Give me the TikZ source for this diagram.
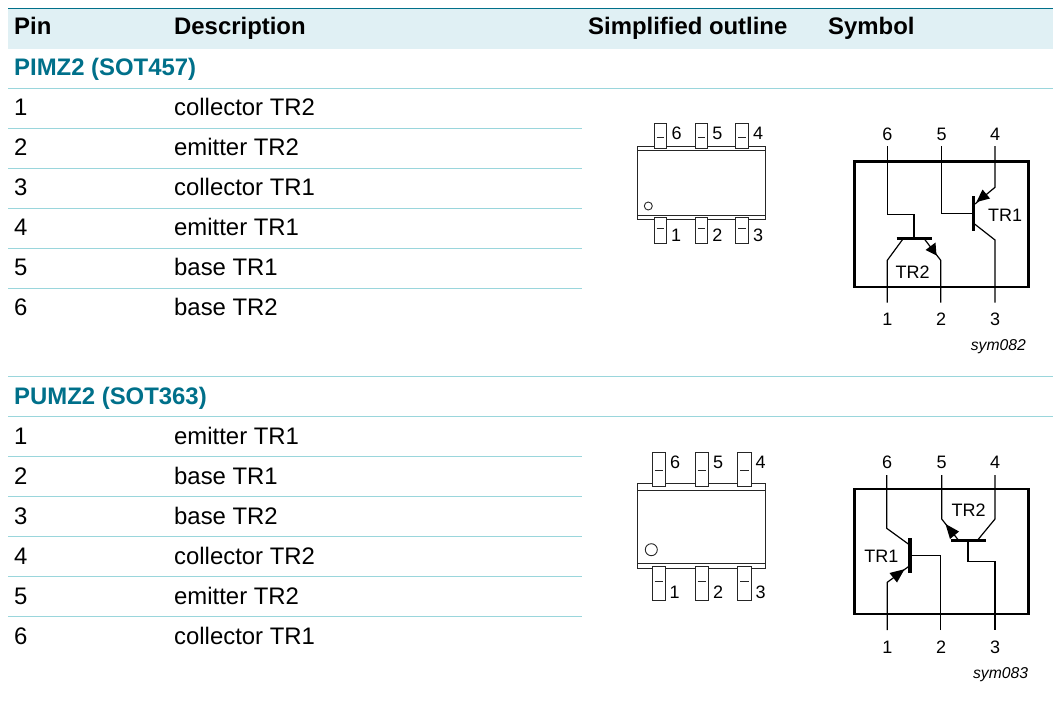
\documentclass[tikz,border=0pt]{standalone}
\usepackage{fontspec}
\setmainfont{Liberation Sans}
\definecolor{band}{HTML}{E0F0F4}
\definecolor{teal}{HTML}{00708A}
\definecolor{rule}{HTML}{9AD6DC}
\tikzset{
  cell/.style={anchor=base west,inner sep=0pt,font=\fontsize{23.9}{28}\selectfont,text=black},
  head/.style={cell,font=\fontsize{23.9}{28}\selectfont\bfseries},
  group/.style={cell,font=\fontsize{23.9}{28}\selectfont\bfseries,text=teal},
  rowrule/.style={draw=rule,line width=1pt},
  pinlabel/.style={inner sep=0pt,font=\fontsize{18}{20}\selectfont},
  trlabel/.style={inner sep=0pt,font=\fontsize{18}{20}\selectfont},
  symcode/.style={anchor=east,inner sep=0pt,font=\fontsize{15.7}{18}\selectfont\itshape},
  outl/.style={draw=black!85,line width=1pt},
  pkgpin/.style={draw=black!85,fill=white,line width=.95pt},
  pindash/.style={draw=black!85,line width=.9pt},
  symbox/.style={draw=black,line width=2.7pt},
  wire/.style={draw=black,line width=1.2pt},
  trbar/.style={draw=black,line width=3.2pt},
  arrowhead/.style={fill=black,draw=none}
}
\begin{document}
\begin{tikzpicture}[x=1pt,y=-1pt]
\useasboundingbox (0,0) rectangle (1053,701);
% header band
\fill[band] (8,8.5) rectangle (1053,49);
\draw[teal,line width=1pt] (8,8.3) -- (1053,8.3);
\node[head] (hpin) at (14,35) {Pin};
\node[head] (hdesc) at (174,35) {Description};
\node[head] (hout) at (588,35) {Simplified outline};
\node[head] (hsym) at (828,35) {Symbol};
% group rows
\node[group] (g1) at (14,76) {PIMZ2 (SOT457)};
\node[group] (g2) at (14,404.5) {PUMZ2 (SOT363)};
\foreach \y in {88.5,376.7,416.7} \draw[rowrule] (8,\y) -- (1053,\y);
\foreach \y in {128.5,168.5,208.5,248.5,288.5,456.5,496.5,536.5,576.5,616.5} \draw[rowrule] (8,\y) -- (582,\y);
% table rows
\foreach \n/\d/\y in {1/collector TR2/115,2/emitter TR2/155,3/collector TR1/195,4/emitter TR1/235,5/base TR1/275,6/base TR2/315}{
  \node[cell] (a\n) at (14,\y) {\n};
  \node[cell] (ad\n) at (174,\y) {\d};
}
\foreach \n/\d/\y in {1/emitter TR1/444,2/base TR1/484,3/base TR2/524,4/collector TR2/564,5/emitter TR2/604,6/collector TR1/644}{
  \node[cell] (b\n) at (14,\y) {\n};
  \node[cell] (bd\n) at (174,\y) {\d};
}
% outline 1
\draw[outl] (637.7,146.7) rectangle (765.3,219);
\draw[outl] (637.7,150.7) -- (765.3,150.7);
\draw[outl] (637.7,215) -- (765.3,215);
\foreach \x in {654,695,735.7}{
  \draw[pkgpin] (\x,123.3) rectangle (\x+12.7,148.3);
  \draw[pindash] (\x+2.5,137.3) -- (\x+10.2,137.3);
  \draw[pkgpin] (\x,217.7) rectangle (\x+12.7,243);
  \draw[pindash] (\x+2.5,228) -- (\x+10.2,228);
}
\draw[draw=black!85,line width=.9pt] (648.3,206) circle[radius=4];
\foreach \t/\x in {6/676.7,5/717.3,4/758}{ \node[pinlabel] (oa\t) at (\x,133.5) {\t}; }
\foreach \t/\x in {1/676,2/717.3,3/758}{ \node[pinlabel] (oa\t) at (\x,235) {\t}; }
% outline 2
\draw[outl] (637.7,483.7) rectangle (765.3,568.7);
\draw[outl] (637.7,490) -- (765.3,490);
\draw[outl] (637.7,563.3) -- (765.3,563.3);
\foreach \x in {652,695,737.7}{
  \draw[pkgpin] (\x,452) rectangle (\x+13.3,486);
  \draw[pindash] (\x+2.5,470) -- (\x+10.8,470);
  \draw[pkgpin] (\x,566) rectangle (\x+13.3,600.7);
  \draw[pindash] (\x+2.5,581.7) -- (\x+10.8,581.7);
}
\draw[draw=black!85,line width=.9pt] (651.3,549.7) circle[radius=6];
\foreach \t/\x in {6/675,5/718,4/760.7}{ \node[pinlabel] (ob\t) at (\x,462.5) {\t}; }
\foreach \t/\x in {1/674.5,2/718,3/760.7}{ \node[pinlabel] (ob\t) at (\x,592) {\t}; }
% symbol 1
\draw[symbox] (854.7,161.7) rectangle (1028.3,287);
\coordinate (s6) at (887.3,146); \coordinate (s5) at (941.7,146); \coordinate (s4) at (995,146);
\coordinate (s1) at (887.3,302.7); \coordinate (s2) at (940.7,302.7); \coordinate (s3) at (995,302.7);
\draw[wire] (s6) -- (887.3,214.3) -- (914,214.3) -- (914,238.5);
\draw[trbar] (896.7,238.5) -- (932,238.5);
\draw[wire] (s1) -- (887.3,260.3) -- (903.3,238.5);
\draw[wire] (s2) -- (940.7,260.3) -- (924,238.5);
\fill[arrowhead] (936.5,255.5) -- (925.5,250) -- (935.5,242.5) -- cycle;
\draw[wire] (s5) -- (941.7,213.7) -- (973,213.7);
\draw[trbar] (973.3,196) -- (973.3,231.3);
\draw[wire] (s4) -- (995,187.3) -- (975,204);
\fill[arrowhead] (976.5,202) -- (982.5,189.5) -- (990,198.5) -- cycle;
\draw[wire] (s3) -- (995,240) -- (973.3,223);
\foreach \t/\x in {6/887.3,5/941.7,4/995}{ \node[trlabel] (sa\t) at (\x,134.5) {\t}; }
\foreach \t/\x in {1/887.3,2/941,3/995}{ \node[trlabel] (sa\t) at (\x,319) {\t}; }
\node[trlabel] (tr1a) at (1005,215) {TR1};
\node[trlabel] (tr2a) at (912.7,272.3) {TR2};
\node[symcode] (c1) at (1026,346.7) {sym082};
% symbol 2
\draw[symbox] (854.7,489) rectangle (1028.3,614);
\coordinate (t6) at (886.7,475); \coordinate (t5) at (941.7,475); \coordinate (t4) at (995,475);
\coordinate (t1) at (887.3,630); \coordinate (t2) at (940.3,630); \coordinate (t3) at (995,630);
\draw[wire] (t6) -- (886.7,528.3) -- (909,544.5);
\draw[trbar] (910,538.3) -- (910,573);
\draw[wire] (t1) -- (887.3,582.3) -- (909,566.2);
\fill[arrowhead] (904.5,569.2) -- (897,582.5) -- (889.5,573) -- cycle;
\draw[wire] (t5) -- (941.7,519) -- (958.3,540);
\fill[arrowhead] (945.5,524) -- (959,531.5) -- (950,539) -- cycle;
\draw[wire] (t2) -- (940.3,555.3) -- (911,555.3);
\draw[wire] (t4) -- (995,519) -- (977.7,540);
\draw[trbar] (950.7,540.7) -- (986,540.7);
\draw[wire] (968,541) -- (968,561.7) -- (995,561.7) -- (t3);
\foreach \t/\x in {6/887,5/941.7,4/995}{ \node[trlabel] (sb\t) at (\x,462.5) {\t}; }
\foreach \t/\x in {1/887.3,2/941,3/995}{ \node[trlabel] (sb\t) at (\x,647) {\t}; }
\node[trlabel] (tr1b) at (881.3,556) {TR1};
\node[trlabel] (tr2b) at (968.7,510) {TR2};
\node[symcode] (c2) at (1028.3,675) {sym083};
\end{tikzpicture}
\end{document}
